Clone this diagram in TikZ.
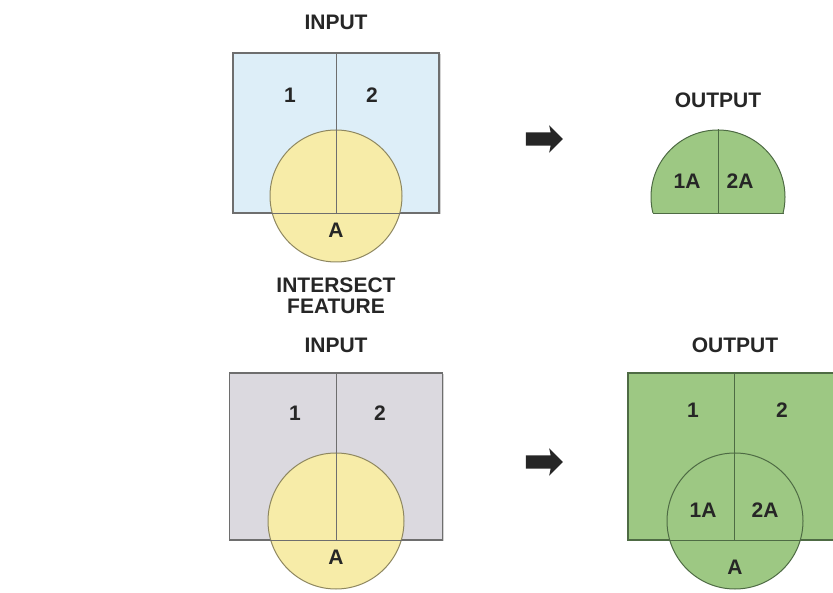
\documentclass[tikz,border=0pt]{standalone}
\usepackage{fontspec}
\setmainfont{Liberation Sans}
\usepackage{xcolor}
\usepackage{tikz}
\usetikzlibrary{positioning,shapes.arrows,shadows}

\definecolor{inblue}{HTML}{DDEEF8}
\definecolor{ingray}{HTML}{DBD9DF}
\definecolor{ftyellow}{HTML}{F7ECA8}
\definecolor{outgreen}{HTML}{9DC883}
\definecolor{edgegray}{HTML}{6E6E6E}
\definecolor{edgeolive}{HTML}{8E8760}
\definecolor{edgegreen}{HTML}{4E6B44}

\begin{document}
\begin{tikzpicture}[x=1pt, y=1pt, font=\fontsize{21}{21}\selectfont\bfseries,
  poly/.style={draw=edgegray, line width=1.2pt, inner sep=0pt,
    drop shadow={shadow xshift=1.5pt, shadow yshift=-1.5pt, opacity=.35}},
  inpoly/.style={poly, fill=inblue}, grpoly/.style={poly, fill=ingray},
  gnpoly/.style={poly, fill=outgreen, draw=edgegreen},
  feat/.style={circle, draw=edgeolive, line width=1pt, fill=ftyellow, inner sep=0pt},
  gnfeat/.style={feat, fill=outgreen, draw=edgegreen},
  cut/.style={draw=edgegray, line width=1pt}, gncut/.style={draw=edgegreen, line width=1pt},
  bigarrow/.style={single arrow, fill=black!85, inner sep=6.5pt, minimum height=37pt,
    single arrow head extend=7pt, single arrow head indent=1.5pt},
  lbl/.style={align=center, text=black!85, inner sep=1pt}]
\clip (0,0) rectangle (833,592);
% top row: input, intersect feature, output
\node[lbl] (tin1) at (336,570) {INPUT};
\node[inpoly, minimum width=206pt, minimum height=160pt] (in1) at (336,459) {};
\node[feat, minimum size=132pt] (ft1) at (336,396) {};
\draw[cut] (in1.north) -- (in1.south);
\draw[cut] (in1.south west) -- (in1.south east);
\node[lbl] (p1) at (290,497) {1};
\node[lbl] (p2) at (372,497) {2};
\node[lbl] (fa1) at (336,362) {A};
\node[lbl] (tft) at (336,296) {INTERSECT\\FEATURE};
\node[bigarrow] (arr1) at (541,453) {};
\node[lbl] (tout1) at (718,492) {OUTPUT};
\begin{scope}
  \clip (640,379) rectangle (800,470);
  \node[gnfeat, minimum size=134pt] (out1) at (718,395) {};
\end{scope}
\draw[gncut] (out1.-166) -- (out1.-14);
\draw[gncut] (out1.north) -- (out1.north |- out1.-14);
\node[lbl] (o1a) at (687,411) {1A};
\node[lbl] (o2a) at (740,411) {2A};
% bottom row: input with feature, output
\node[lbl] (tin2) at (336,247) {INPUT};
\node[grpoly, minimum width=213pt, minimum height=167pt] (in2) at (336,135.5) {};
\node[feat, minimum size=136pt] (ft2) at (336,71) {};
\draw[cut] (in2.north) -- (in2.south);
\draw[cut] (in2.south west) -- (in2.south east);
\node[lbl] (q1) at (295,179) {1};
\node[lbl] (q2) at (380,179) {2};
\node[lbl] (fa2) at (336,35) {A};
\node[bigarrow] (arr2) at (541,130) {};
\node[lbl] (tout2) at (735,247) {OUTPUT};
\node[gnpoly, minimum width=213pt, minimum height=167pt] (out2) at (734.5,135.5) {};
\node[gnfeat, minimum size=136pt] (ft3) at (735,71) {};
\draw[gncut] (out2.north) -- (out2.south);
\draw[gncut] (out2.south west) -- (out2.south east);
\node[lbl] (r1) at (693,182) {1};
\node[lbl] (r2) at (782,182) {2};
\node[lbl] (r1a) at (703,82) {1A};
\node[lbl] (r2a) at (765,82) {2A};
\node[lbl] (fa3) at (735,25) {A};
\end{tikzpicture}
\end{document}
